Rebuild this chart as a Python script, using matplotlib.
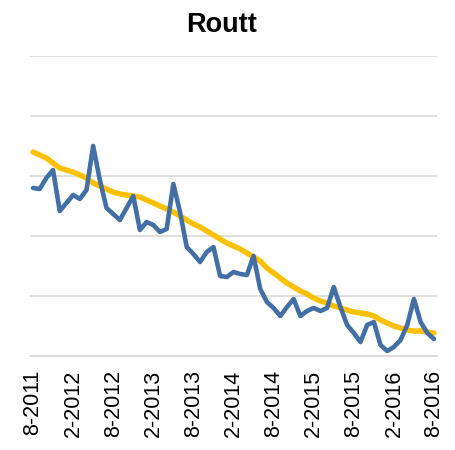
import matplotlib
matplotlib.use("Agg")
import matplotlib.pyplot as plt
import numpy as np

#==[0] Data (monthly, 8-2011 .. 8-2016), arbitrary units
months = np.arange(61)

actual = [168, 167, 178, 186, 145, 153, 161, 157, 166, 210,
          176, 148, 142, 136, 148, 160, 126, 134, 131, 124,
          127, 172, 144, 109, 102, 94, 104, 109, 80, 79,
          84, 82, 81, 100, 67, 54, 48, 40, 49, 57,
          40, 45, 48, 45, 48, 69, 49, 31, 23, 14,
          31, 34, 11, 5, 9, 16, 31, 57, 34, 23,
          17]

trend = [204, 201, 198, 193, 188, 186, 184, 181, 178, 173,
         170, 167, 164, 162, 161, 160, 159, 156, 153, 150,
         147, 144, 140, 136, 132, 129, 125, 121, 117, 113,
         110, 107, 103, 99, 95, 88, 83, 78, 73, 69,
         65, 62, 58, 55, 53, 50, 48, 46, 44, 43,
         42, 40, 36, 33, 30, 28, 26, 25, 25, 24,
         23]

tick_pos = np.arange(0, 61, 6)
tick_labels = ["8-2011", "2-2012", "8-2012", "2-2013", "8-2013", "2-2014",
               "8-2014", "2-2015", "8-2015", "2-2016", "8-2016"]

#==[1] Figure
plt.rcParams['font.family'] = ['Liberation Sans', 'DejaVu Sans']

fig = plt.figure(figsize=(4.56, 4.50), dpi=100)
W, H = 456.0, 450.0
left, right, top, bottom = 30, 437, 56, 356
ax = fig.add_axes([left / W, 1 - bottom / H, (right - left) / W, (bottom - top) / H])

ax.plot(months, trend, color="#FFC000", lw=3.9, solid_capstyle="round", zorder=3)
ax.plot(months, actual, color="#4270A6", lw=3.3, solid_joinstyle="round",
        solid_capstyle="round", zorder=4)

ax.set_xlim(-0.45, 60.45)
ax.set_ylim(0, 300)
ax.set_yticks(np.arange(0, 301, 60))
ax.yaxis.grid(True, color="#D9D9D9", lw=1.2)
ax.set_axisbelow(True)
ax.tick_params(axis="y", left=False, labelleft=False)
ax.set_xticks(tick_pos)
ax.set_xticklabels(tick_labels, rotation=90, fontsize=15.5)
ax.tick_params(axis="x", length=0, pad=10)
for s in ["top", "right", "left"]:
    ax.spines[s].set_visible(False)
ax.spines["bottom"].set_color("#D9D9D9")
ax.spines["bottom"].set_linewidth(1.2)

fig.text(222 / W, 1 - 32 / H, "Routt", ha="center", va="baseline",
         fontsize=19.5, fontweight="bold")

fig.savefig("out.png", dpi=100)
